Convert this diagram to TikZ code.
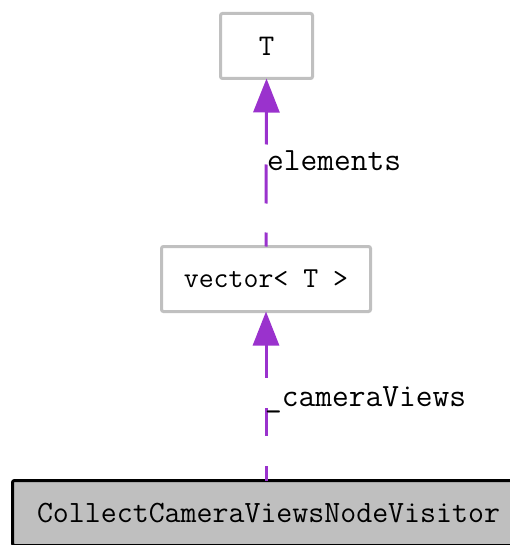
\documentclass[tikz,border=0pt]{standalone}
\usepackage{fontspec}
\usetikzlibrary{arrows.meta}
\definecolor{boxgray}{HTML}{C0C0C0}
\definecolor{fillgray}{HTML}{BFBFBF}
\definecolor{edgepurple}{HTML}{9A32CD}
\tikzset{
  classbox/.style={draw=boxgray, line width=3pt, rounded corners=2pt, fill=white,
    inner sep=0pt, outer sep=0pt, font=\ttfamily\fontsize{30}{34}\selectfont},
  mainbox/.style={classbox, draw=black, fill=fillgray, font=\ttfamily\fontsize{31}{34}\selectfont},
  useedge/.style={draw=edgepurple, line width=3pt,
    -{Triangle[length=34pt,width=26pt]}},
  edgelabel/.style={anchor=base west, inner sep=0pt, font=\ttfamily\fontsize{32.5}{34}\selectfont}
}
\begin{document}
\begin{tikzpicture}[x=1pt, y=-1pt]
  \useasboundingbox (0,0) rectangle (510,545);
  % class nodes
  \node[classbox, minimum width=92pt, minimum height=65pt] (T) at (266.5,46) {T};
  \node[classbox, minimum width=209pt, minimum height=65pt,
    font=\ttfamily\fontsize{29}{34}\selectfont] (vec) at (266,279) {vector< T >};
  \node[mainbox, minimum width=512pt, minimum height=65pt] (visitor) at (268.5,513)
    {CollectCameraViewsNodeVisitor};
  % usage edges
  \draw[useedge, dash pattern=on 14pt off 29pt on 39pt off 20pt on 200pt off 1pt]
    (vec.north) -- (T.south);
  \draw[useedge, dash pattern=on 15pt off 30pt on 28pt off 30pt on 200pt off 1pt]
    (vec.south |- visitor.north) -- (vec.south);
  % edge labels
  \node[edgelabel] (lblelements) at (267,171) {elements};
  \node[edgelabel] (lblviews) at (265,406) {\_cameraViews};
\end{tikzpicture}
\end{document}
